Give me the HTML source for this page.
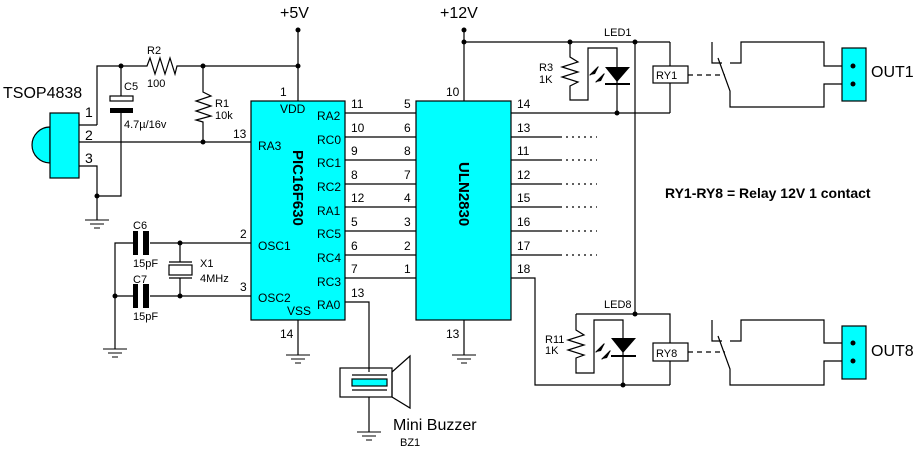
<!DOCTYPE html>
<html><head><meta charset="utf-8"><style>
html,body{margin:0;padding:0;background:#fff}
svg{display:block}
text{font-family:"Liberation Sans",sans-serif;fill:#000}
</style></head><body>
<svg width="916" height="451" viewBox="0 0 916 451" xmlns="http://www.w3.org/2000/svg">
<defs>
<g id="gnd"><line x1="-12" y1="0" x2="12" y2="0" stroke="#000"/><line x1="-7" y1="4" x2="7" y2="4" stroke="#000"/><line x1="-3" y1="8" x2="3" y2="8" stroke="#000"/></g>
</defs>
<g stroke="#000" stroke-width="1.2" fill="none">
<!-- +5V -->
<line x1="298" y1="30" x2="298" y2="101"/>
<polyline points="97,125 97,66 147,66 150,58 155,74 160,58 165,74 170,58 175,74 177,66 298,66"/>
<line x1="79" y1="125" x2="97" y2="125"/>
<line x1="79" y1="142" x2="251" y2="142"/>
<polyline points="79,166 97,166 97,220"/>
<polyline points="97,196 121,196 121,113"/>
<line x1="121" y1="66" x2="121" y2="96"/>
<rect x="110" y="96" width="23" height="5" fill="#fff"/>
<polyline points="203,66 203,92 211,96 196,101 211,106 196,111 211,116 196,120 203,122 203,142"/>
<!-- PIC outputs -->
<line x1="345" y1="113" x2="416" y2="113"/>
<line x1="345" y1="137" x2="416" y2="137"/>
<line x1="345" y1="160" x2="416" y2="160"/>
<line x1="345" y1="184" x2="416" y2="184"/>
<line x1="345" y1="207" x2="416" y2="207"/>
<line x1="345" y1="231" x2="416" y2="231"/>
<line x1="345" y1="255" x2="416" y2="255"/>
<line x1="345" y1="278" x2="416" y2="278"/>
<!-- osc -->
<line x1="150" y1="243" x2="251" y2="243"/>
<line x1="150" y1="296" x2="251" y2="296"/>
<polyline points="133,243 115,243 115,349"/>
<line x1="115" y1="296" x2="133" y2="296"/>
<line x1="180" y1="243" x2="180" y2="262"/>
<line x1="180" y1="278" x2="180" y2="296"/>
<line x1="169" y1="262" x2="192" y2="262"/>
<line x1="169" y1="278" x2="192" y2="278"/>
<rect x="169" y="265" width="23" height="10" fill="#fff"/>
<line x1="298" y1="320" x2="298" y2="355"/>
<!-- buzzer -->
<polyline points="345,302 369,302 369,372"/>
<line x1="369" y1="397" x2="369" y2="432"/>
<rect x="340" y="368" width="52" height="29"/>
<polygon points="392,372 410,356 410,408 392,397"/>
<line x1="352" y1="375" x2="387" y2="375"/>
<line x1="352" y1="390" x2="387" y2="390"/>
<!-- 12V -->
<line x1="464" y1="30" x2="464" y2="101"/>
<line x1="464" y1="42" x2="670" y2="42"/>
<line x1="464" y1="320" x2="464" y2="355"/>
<line x1="511" y1="113" x2="670" y2="113"/>
<line x1="511" y1="137" x2="560" y2="137"/><line x1="560" y1="137" x2="597" y2="137" stroke-dasharray="2,4"/>
<line x1="511" y1="160" x2="560" y2="160"/><line x1="560" y1="160" x2="597" y2="160" stroke-dasharray="2,4"/>
<line x1="511" y1="184" x2="560" y2="184"/><line x1="560" y1="184" x2="597" y2="184" stroke-dasharray="2,4"/>
<line x1="511" y1="207" x2="560" y2="207"/><line x1="560" y1="207" x2="597" y2="207" stroke-dasharray="2,4"/>
<line x1="511" y1="231" x2="560" y2="231"/><line x1="560" y1="231" x2="597" y2="231" stroke-dasharray="2,4"/>
<line x1="511" y1="255" x2="560" y2="255"/><line x1="560" y1="255" x2="597" y2="255" stroke-dasharray="2,4"/>
<polyline points="511,278 535,278 535,385 670,385"/>
<line x1="635" y1="42" x2="635" y2="314"/>
<!-- LED1 block -->
<polyline points="570,42 570,57 578,62 562,67 578,72 562,77 578,82 570,86 570,100 588,100 588,48 617,48 617,113"/>
<polyline points="670,42 670,66"/><line x1="670" y1="83" x2="670" y2="113"/>
<rect x="653" y="66" width="35" height="17" fill="#fff"/>
<line x1="688" y1="75" x2="725" y2="75" stroke-dasharray="5,4"/>
<polyline points="712,42 712,63 722,63"/>
<polyline points="730,63 741,63 741,42 824,42 824,66 842,66"/>
<polyline points="718,58 730,91 730,107 824,107 824,84 842,84"/>
<!-- LED8 block -->
<polyline points="576,314 670,314 670,343"/>
<line x1="670" y1="361" x2="670" y2="385"/>
<polyline points="576,314 576,330 584,335 568,340 584,345 568,350 584,355 576,358 576,373 594,373 594,320 623,320 623,385"/>
<rect x="653" y="343" width="35" height="18" fill="#fff"/>
<line x1="688" y1="352" x2="725" y2="352" stroke-dasharray="5,4"/>
<polyline points="712,320 712,341 722,341"/>
<polyline points="730,341 741,341 741,320 824,320 824,343 842,343"/>
<polyline points="718,336 730,369 730,385 824,385 824,361 842,361"/>
</g>
<g fill="#000">
<rect x="110" y="108" width="23" height="5"/>
<rect x="133" y="231" width="5" height="24"/><rect x="143" y="231" width="6" height="24"/>
<rect x="133" y="284" width="5" height="24"/><rect x="143" y="284" width="6" height="24"/>
<polygon points="605,67 630,67 617,82"/><rect x="605" y="83" width="25" height="2"/>
<polygon points="611,338 636,338 623,353"/><rect x="611" y="355" width="25" height="2"/>
<polygon points="590,75 599,66 595,74"/><polygon points="596,82 605,73 601,81"/>
<polygon points="596,352 605,343 601,351"/><polygon points="602,359 611,350 607,358"/>
<circle cx="298" cy="30" r="2.5"/><circle cx="298" cy="66" r="2.5"/><circle cx="121" cy="66" r="2.5"/><circle cx="203" cy="66" r="2.5"/>
<circle cx="203" cy="142" r="2.5"/><circle cx="97" cy="196" r="2.5"/>
<circle cx="180" cy="243" r="2.5"/><circle cx="180" cy="296" r="2.5"/><circle cx="115" cy="296" r="2.5"/>
<circle cx="464" cy="30" r="2.5"/><circle cx="464" cy="42" r="2.5"/><circle cx="570" cy="42" r="2.5"/><circle cx="635" cy="42" r="2.5"/>
<circle cx="617" cy="113" r="2.5"/><circle cx="635" cy="314" r="2.5"/><circle cx="623" cy="385" r="2.5"/>
</g>
<g stroke="#000" stroke-width="1.2" fill="none" stroke-linecap="round">
<line x1="590" y1="75" x2="598" y2="67"/><line x1="596" y1="82" x2="604" y2="74"/>
<line x1="596" y1="352" x2="604" y2="344"/><line x1="602" y1="359" x2="610" y2="351"/>
</g>
<use href="#gnd" x="97" y="220"/><use href="#gnd" x="115" y="349"/><use href="#gnd" x="298" y="355"/>
<use href="#gnd" x="369" y="432"/><use href="#gnd" x="464" y="355"/>
<!-- components filled -->
<g stroke="#000" stroke-width="1.2">
<path d="M50,127 A18,18 0 0 0 50,163 Z" fill="#00ffff"/>
<rect x="50" y="113" width="29" height="65" fill="#00ffff"/>
<rect x="251" y="101" width="94" height="219" fill="#00ffff"/>
<rect x="416" y="101" width="95" height="219" fill="#00ffff"/>
<rect x="352" y="379" width="35" height="7" fill="#00ffff"/>
<rect x="842" y="48" width="24" height="53" fill="#00ffff"/>
<rect x="842" y="326" width="24" height="53" fill="#00ffff"/>
</g>
<g fill="#000"><circle cx="853" cy="66" r="2.5"/><circle cx="853" cy="84" r="2.5"/><circle cx="853" cy="343" r="2.5"/><circle cx="853" cy="361" r="2.5"/></g>
<g font-size="16">
<text x="280" y="18">+5V</text><text x="440" y="18">+12V</text>
<text x="3" y="98">TSOP4838</text>
<text x="393" y="430">Mini Buzzer</text>
<text x="871" y="77">OUT1</text><text x="871" y="356">OUT8</text>
</g>
<g font-size="14"><text x="85" y="117">1</text><text x="85" y="140">2</text><text x="85" y="163">3</text></g>
<g font-size="11">
<text x="147" y="54">R2</text><text x="147" y="87">100</text>
<text x="124" y="90">C5</text><text x="124" y="128">4.7µ/16v</text>
<text x="215" y="107">R1</text><text x="215" y="119">10k</text>
<text x="133" y="229">C6</text><text x="133" y="267">15pF</text>
<text x="133" y="283">C7</text><text x="133" y="320">15pF</text>
<text x="200" y="267">X1</text><text x="200" y="282">4MHz</text>
<text x="400" y="446">BZ1</text>
<text x="539" y="71">R3</text><text x="539" y="83">1K</text>
<text x="545" y="343">R11</text><text x="545" y="354">1K</text>
<text x="604" y="36">LED1</text><text x="604" y="308">LED8</text>
<text x="656" y="79">RY1</text><text x="656" y="357">RY8</text>
</g>
<g font-size="12">
<text x="280" y="96">1</text><text x="233" y="138">13</text><text x="240" y="238">2</text><text x="240" y="291">3</text><text x="280" y="338">14</text>
<text x="280" y="113">VDD</text><text x="258" y="150">RA3</text><text x="258" y="250">OSC1</text><text x="258" y="302">OSC2</text><text x="287" y="315">VSS</text>
<text x="317" y="120">RA2</text><text x="317" y="144">RC0</text><text x="317" y="167">RC1</text><text x="317" y="191">RC2</text><text x="317" y="215">RA1</text><text x="317" y="238">RC5</text><text x="317" y="262">RC4</text><text x="317" y="286">RC3</text><text x="317" y="309">RA0</text>
<text x="351" y="108">11</text><text x="351" y="132">10</text><text x="351" y="155">9</text><text x="351" y="179">8</text><text x="351" y="202">12</text><text x="351" y="226">5</text><text x="351" y="250">6</text><text x="351" y="273">7</text><text x="351" y="297">13</text>
<text x="404" y="108">5</text><text x="404" y="132">6</text><text x="404" y="155">8</text><text x="404" y="179">7</text><text x="404" y="202">4</text><text x="404" y="226">3</text><text x="404" y="250">2</text><text x="404" y="273">1</text>
<text x="446" y="96">10</text><text x="446" y="338">13</text>
<text x="517" y="108">14</text><text x="517" y="132">13</text><text x="517" y="155">11</text><text x="517" y="179">12</text><text x="517" y="202">15</text><text x="517" y="226">16</text><text x="517" y="250">17</text><text x="517" y="273">18</text>
</g>
<text x="665" y="198" font-size="14" font-weight="bold">RY1-RY8 = Relay 12V 1 contact</text>
<text transform="translate(293,150) rotate(90)" font-size="15" font-weight="bold">PIC16F630</text>
<text transform="translate(459,162) rotate(90)" font-size="15" font-weight="bold">ULN2830</text>
</svg>
</body></html>
